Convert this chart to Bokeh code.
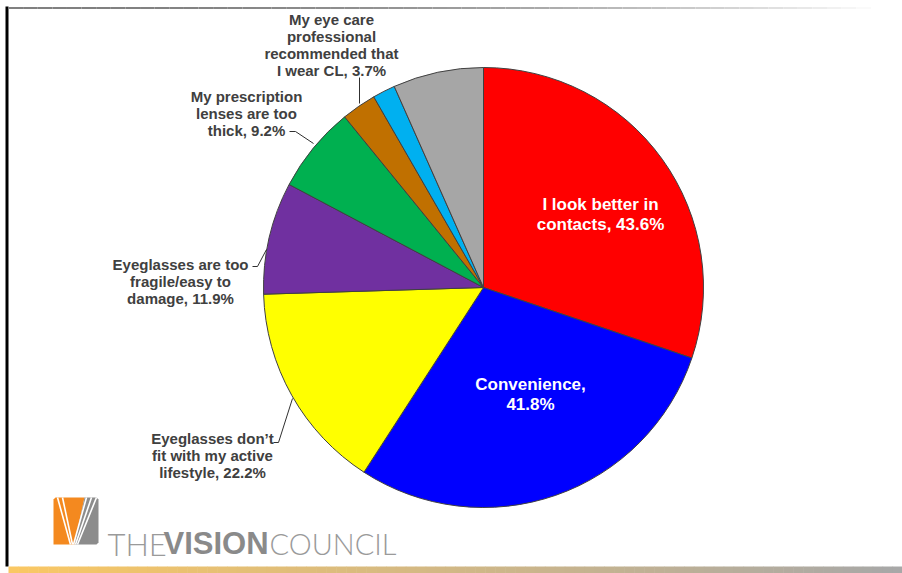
import numpy as np
from bokeh.plotting import figure
from bokeh.models import Range1d, ColumnDataSource
from bokeh.core.properties import value
from bokeh.embed import file_html
from bokeh.resources import INLINE

# ---------------- data ----------------
categories = [
    "I look better in contacts",
    "Convenience",
    "Eyeglasses don’t fit with my active lifestyle",
    "Eyeglasses are too fragile/easy to damage",
    "My prescription lenses are too thick",
    "My eye care professional recommended that I wear CL",
    "Other reason (unlabelled)",
    "Other (unlabelled)",
]
values = [43.6, 41.8, 22.2, 11.9, 9.2, 3.7, 2.4, 9.6]
labels = [
    "I look better in\ncontacts, 43.6%",
    "Convenience,\n41.8%",
    "Eyeglasses don’t\nfit with my active\nlifestyle, 22.2%",
    "Eyeglasses are too\nfragile/easy to\ndamage, 11.9%",
    "My prescription\nlenses are too\nthick, 9.2%",
    "My eye care\nprofessional\nrecommended that\nI wear CL, 3.7%",
    "",
    "",
]
colors = ["#FF0000", "#0000FF", "#FFFF00", "#7030A0", "#00B050", "#C07000", "#00B0F0", "#A6A6A6"]

# ---------------- figure ----------------
W, H = 902, 573
p = figure(width=W, height=H, x_range=Range1d(0, W), y_range=Range1d(0, H),
           output_backend="svg", toolbar_location=None, min_border=0)
p.axis.visible = False
p.grid.visible = False
p.outline_line_color = None
p.background_fill_color = "white"
p.border_fill_color = "white"


def Y(py):
    return H - py


# frame lines
p.segment(x0=[6.5], y0=[Y(6)], x1=[6.5], y1=[Y(566)], line_color="black", line_width=3)
n = 60
xs = np.linspace(8, 885, n + 1)
g = np.linspace(0, 1, n)
top_cols = []
for t in g:
    v = int(128 + (255 - 128) * (t ** 2.2))
    top_cols.append("#%02x%02x%02x" % (v, v, v))
p.segment(x0=xs[:-1], y0=[Y(7.5)] * n, x1=xs[1:], y1=[Y(7.5)] * n, line_color=top_cols, line_width=2)

# bottom gradient bar
m = 90
bx = np.linspace(8, 902, m + 1)
c0 = np.array([250, 200, 100])
c1 = np.array([168, 168, 168])
bot_cols = []
for t in np.linspace(0, 1, m):
    c = (c0 + (c1 - c0) * t).astype(int)
    bot_cols.append("#%02x%02x%02x" % tuple(c))
p.quad(left=bx[:-1], right=bx[1:] + 0.5, bottom=[Y(573)] * m, top=[Y(566)] * m,
       fill_color=bot_cols, line_color=None)

# ---------------- pie ----------------
cx, cy, r = 483, Y(287), 220
vals = np.array(values, dtype=float)
frac = vals / vals.sum()
cum = np.concatenate([[0.0], np.cumsum(frac)])
start = np.pi / 2 - 2 * np.pi * cum[1:]
end = np.pi / 2 - 2 * np.pi * cum[:-1]
src = ColumnDataSource(dict(x=[cx] * len(vals), y=[cy] * len(vals), start=start, end=end,
                            color=colors, cat=categories))
p.wedge(x="x", y="y", radius=r, start_angle="start", end_angle="end", fill_color="color",
        line_color="#404040", line_width=1, source=src)

# ---------------- labels ----------------
# inside (white) labels
p.text(x=[600, 530], y=[Y(214), Y(394)], text=labels[:2], text_align="center",
       text_baseline="middle", text_font=value("Liberation Sans"), text_font_style="bold",
       text_font_size="17px", text_color="white", text_line_height=1.02)
# outside labels
p.text(x=[212, 180, 246, 331], y=[Y(455), Y(281), Y(113), Y(44)], text=labels[2:6],
       text_align="center", text_baseline="middle", text_font=value("Liberation Sans"),
       text_font_style="bold", text_font_size="15px", text_color="#404040",
       text_line_height=1.0)

# leader lines
p.multi_line(xs=[[273, 278, 292], [252, 257, 266], [289, 295, 313], [359, 359]],
             ys=[[Y(442), Y(442), Y(398)], [Y(266), Y(266), Y(249)],
                 [Y(131), Y(131), Y(143)], [Y(77), Y(103)]],
             line_color="#303030", line_width=1)

# ---------------- logo ----------------
p.patches(xs=[[55, 84, 74, 53, 53], [84, 96, 98, 98, 96, 74]],
          ys=[[Y(497), Y(497), Y(544), Y(544), Y(499)],
              [Y(497), Y(497), Y(499), Y(542), Y(544), Y(544)]],
          fill_color=["#F4891F", "#8C8C8C"], line_color=None)
p.multi_line(xs=[[57, 70], [62, 72], [86, 73], [91, 75], [96, 77]],
             ys=[[Y(497), Y(544)], [Y(497), Y(544)], [Y(497), Y(544)], [Y(497), Y(544)], [Y(497), Y(544)]],
             line_color="white", line_width=1.6)
p.text(x=[107], y=[Y(543)], text=["THE"], text_align="left", text_baseline="alphabetic",
       text_font=value("Lato Light"), text_font_size="31px", text_color="#9a9a9a")
p.text(x=[163], y=[Y(543)], text=["VISION"], text_align="left", text_baseline="alphabetic",
       text_font=value("Liberation Sans"), text_font_style="bold", text_font_size="31px",
       text_color="#8a8a8a")
p.text(x=[269], y=[Y(543)], text=["COUNCIL"], text_align="left", text_baseline="alphabetic",
       text_font=value("Lato Light"), text_font_size="29px", text_color="#9a9a9a")

open("out.html", "w").write(file_html(p, INLINE))
